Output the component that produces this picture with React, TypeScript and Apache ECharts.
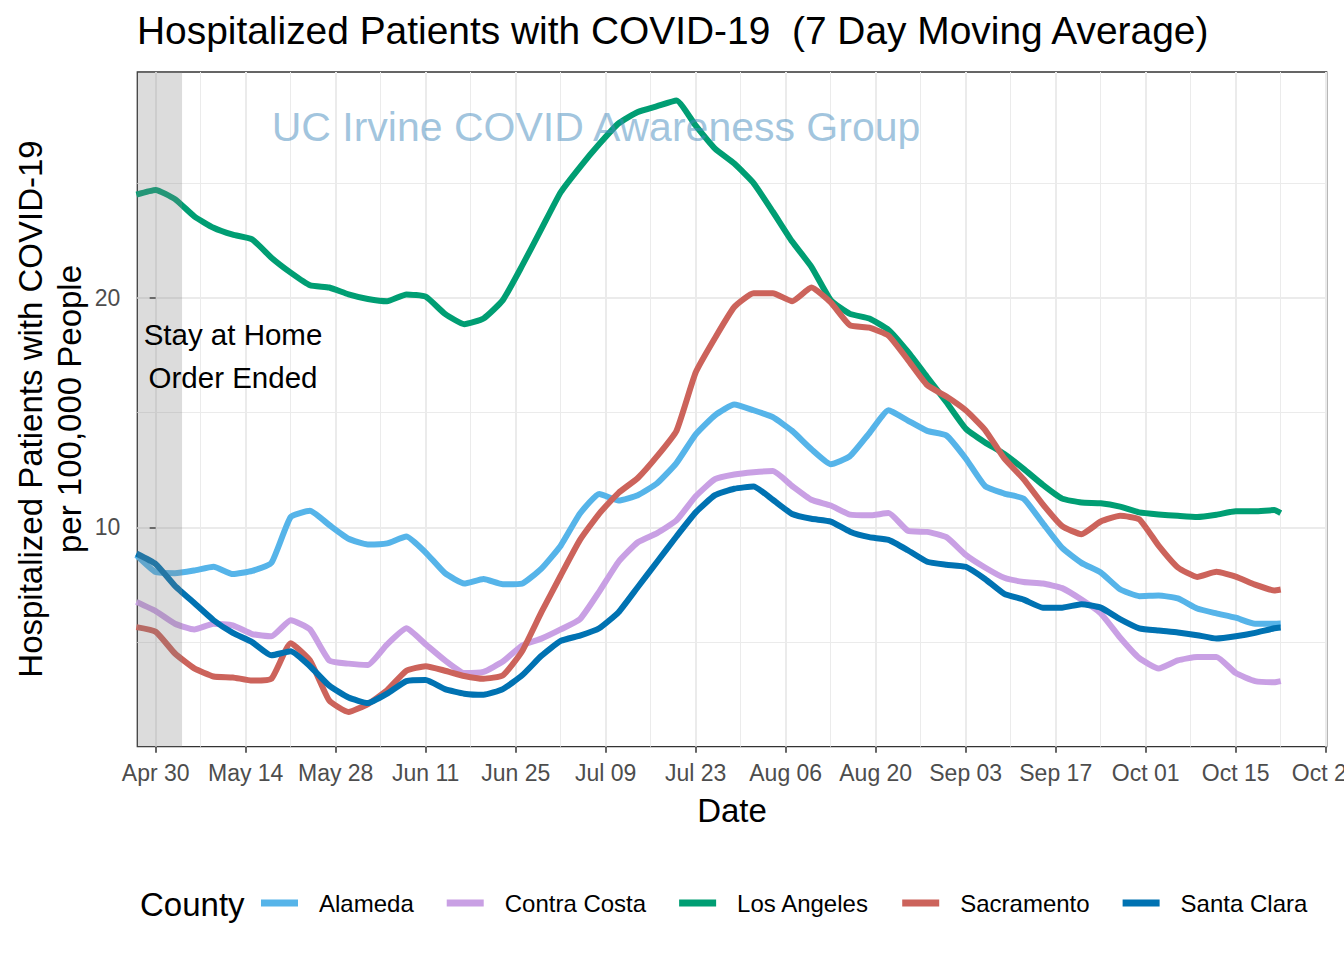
import React, { useEffect, useRef } from 'react';
import * as echarts from 'echarts';

// x values: days after Apr 30
const days = [-3,0,3,6,9,12,15,18,21,24,27,30,33,36,39,42,45,48,51,54,57,60,63,66,69,72,75,78,81,84,87,90,93,96,99,102,105,108,111,114,117,120,123,126,129,132,135,138,141,144,147,150,153,156,159,162,165,168,171,174,175];

const tickDays = [0,14,28,42,56,70,84,98,112,126,140,154,168,182];
const tickLabels = ['Apr 30','May 14','May 28','Jun 11','Jun 25','Jul 09','Jul 23','Aug 06','Aug 20','Sep 03','Sep 17','Oct 01','Oct 15','Oct 29'];
const minorDays = [7,21,35,49,63,77,91,105,119,133,147,161,175];
const yTicks = [10, 20];
const yMinor = [5, 15, 25];

const counties = ['Alameda', 'Contra Costa', 'Los Angeles', 'Sacramento', 'Santa Clara'];
const colors = ['#56B4E9', '#C9A0E4', '#009E73', '#CC635B', '#0072B2'];

const alameda = [8.79,8.05,8.0,8.12,8.28,7.96,8.1,8.45,10.45,10.72, 10.1,9.5,9.25,9.3,9.6,8.9,8.0,7.55,7.75,7.52, 7.55,8.2,9.2,10.6,11.45,11.17,11.4,11.92,12.8,14.05, 14.88,15.35,15.1,14.8,14.2,13.4,12.75,13.1,14.1,15.1, 14.65,14.2,14.0,13.0,11.8,11.47,11.25,10.17,9.1,8.45, 8.03,7.3,7.0,7.03,6.9,6.46,6.25,6.06,5.8,5.8, 5.81];
const contraCosta = [6.75,6.35,5.8,5.55,5.8,5.73,5.35,5.25,5.95,5.55, 4.2,4.06,4.0,4.9,5.6,4.9,4.2,3.65,3.7,4.15, 4.85,5.15,5.55,6.0,7.2,8.5,9.35,9.75,10.3,11.35, 12.1,12.3,12.4,12.45,11.8,11.2,10.95,10.55,10.52,10.62, 9.85,9.8,9.57,8.8,8.25,7.8,7.62,7.55,7.35,6.85, 6.25,5.2,4.3,3.85,4.2,4.35,4.35,3.65,3.3,3.25, 3.3];
const losAngeles = [24.5,24.7,24.3,23.55,23.05,22.75,22.55,21.75,21.1,20.55, 20.45,20.15,19.95,19.85,20.15,20.05,19.3,18.85,19.1,19.9, 21.4,23.0,24.6,25.7,26.7,27.6,28.1,28.35,28.6,27.5, 26.5,25.85,25.0,23.75,22.45,21.35,19.9,19.3,19.1,18.6, 17.65,16.55,15.45,14.3,13.7,13.2,12.55,11.85,11.25,11.08, 11.05,10.9,10.65,10.56,10.5,10.45,10.55,10.7,10.7,10.75, 10.62];
const sacramento = [5.65,5.45,4.5,3.85,3.5,3.46,3.32,3.4,4.95,4.2, 2.45,1.95,2.3,2.9,3.75,3.95,3.75,3.52,3.4,3.55, 4.6,6.3,7.9,9.45,10.6,11.5,12.15,13.1,14.2,16.75, 18.25,19.6,20.2,20.2,19.85,20.45,19.8,18.8,18.7,18.35, 17.3,16.2,15.7,15.1,14.25,13.0,12.1,11.0,10.05,9.7, 10.25,10.5,10.35,9.2,8.25,7.84,8.06,7.85,7.5,7.25, 7.29];
const santaClara = [8.86,8.4,7.45,6.7,5.95,5.4,5.0,4.42,4.6,3.95, 3.1,2.58,2.34,2.75,3.3,3.35,2.95,2.75,2.7,2.95, 3.55,4.4,5.05,5.28,5.6,6.3,7.4,8.5,9.6,10.65, 11.4,11.68,11.78,11.2,10.58,10.37,10.25,9.81,9.57,9.45, 9.0,8.5,8.37,8.28,7.75,7.1,6.85,6.5,6.5,6.65, 6.5,6.0,5.6,5.5,5.42,5.3,5.15,5.25,5.4,5.6, 5.63];

const seriesValues = [alameda, contraCosta, losAngeles, sacramento, santaClara];

// stay-at-home shading (days after Apr 30)
const shadeRange = [-2.86, 4.1];

const FONT = 'Liberation Sans, Arial, sans-serif';

export default function App() {
  const ref = useRef<HTMLDivElement>(null);
  useEffect(() => {
    const chart = echarts.init(ref.current!, null, { renderer: 'svg', width: 1344, height: 960 });
    const series: any[] = counties.map((name, i) => ({
      name,
      type: 'line',
      xAxisIndex: 0,
      yAxisIndex: 0,
      showSymbol: false,
      smooth: 0.15,
      color: colors[i],
      lineStyle: { color: colors[i], width: 6, join: 'round' },
      z: 2 + i * 0.01,
      data: days.map((d, j) => [d, seriesValues[i][j]]),
    }));
    series[4].markArea = {
      silent: true,
      z: 10,
      itemStyle: { color: 'rgba(128,128,128,0.28)' },
      data: [[{ xAxis: shadeRange[0] }, { xAxis: shadeRange[1] }]],
    };
    const option: any = {
      animation: false,
      backgroundColor: '#fff',
      grid: {
        left: 137.3, top: 72, right: 17.3, bottom: 213.3,
        show: true, borderColor: '#333', borderWidth: 1.3, backgroundColor: 'transparent',
        containLabel: false, outerBoundsMode: 'none',
      },
      xAxis: [
        {
          type: 'value', min: -2.86, max: 182.15,
          axisLine: { show: false },
          axisTick: { show: true, customValues: tickDays, length: 6, lineStyle: { color: '#333', width: 1.5 } },
          axisLabel: {
            customValues: tickDays, margin: 15, color: '#4d4d4d', fontSize: 23, fontFamily: FONT,
            formatter: (v: number) => tickLabels[tickDays.indexOf(Math.round(v))] ?? '',
          },
          splitLine: { show: true, lineStyle: { color: '#ebebeb', width: 2 } },
        },
        {
          type: 'value', min: -2.86, max: 182.15, position: 'top',
          axisLine: { show: false },
          axisTick: { show: false, customValues: minorDays },
          axisLabel: { show: false, customValues: minorDays },
          splitLine: { show: true, lineStyle: { color: '#ebebeb', width: 1 } },
        },
      ],
      yAxis: [
        {
          type: 'value', min: 0.44, max: 29.84,
          axisLine: { show: false },
          axisTick: { show: true, customValues: yTicks, length: 6, lineStyle: { color: '#333', width: 1.5 } },
          axisLabel: { customValues: yTicks, margin: 17, color: '#4d4d4d', fontSize: 23, fontFamily: FONT },
          splitLine: { show: true, lineStyle: { color: '#ebebeb', width: 2 } },
        },
        {
          type: 'value', min: 0.44, max: 29.84, position: 'right',
          axisLine: { show: false },
          axisTick: { show: false, customValues: yMinor },
          axisLabel: { show: false, customValues: yMinor },
          splitLine: { show: true, lineStyle: { color: '#ebebeb', width: 1 } },
        },
      ],
      legend: {
        data: counties,
        left: 261, top: 891, padding: 0,
        icon: 'rect', itemWidth: 37, itemHeight: 7, itemGap: 33,
        itemStyle: { borderWidth: 0 },
        textStyle: { fontSize: 24, color: '#000', fontFamily: FONT, padding: [0, 0, 0, 16] },
      },
      graphic: [
        {
          type: 'text', x: 137, y: 30, z: 100,
          style: { text: 'Hospitalized Patients with COVID-19  (7 Day Moving Average)', fontSize: 38.9, fontFamily: FONT, fill: '#000', align: 'left', verticalAlign: 'middle' },
        },
        {
          type: 'text', x: 596, y: 127, z: 100,
          style: { text: 'UC Irvine COVID Awareness Group', fontSize: 41, fontFamily: FONT, fill: 'rgba(70,140,190,0.5)', align: 'center', verticalAlign: 'middle' },
        },
        {
          type: 'text', x: 233, y: 356, z: 100,
          style: { text: 'Stay at Home\nOrder Ended', fontSize: 29.5, lineHeight: 43, fontFamily: FONT, fill: '#000', align: 'center', verticalAlign: 'middle' },
        },
        {
          type: 'text', x: 50, y: 409, rotation: Math.PI / 2, z: 100,
          style: { text: 'Hospitalized Patients with COVID-19\nper 100,000 People', fontSize: 33, lineHeight: 39, fontFamily: FONT, fill: '#000', align: 'center', verticalAlign: 'middle' },
        },
        {
          type: 'text', x: 732, y: 810, z: 100,
          style: { text: 'Date', fontSize: 33, fontFamily: FONT, fill: '#000', align: 'center', verticalAlign: 'middle' },
        },
        {
          type: 'text', x: 140, y: 904, z: 100,
          style: { text: 'County', fontSize: 33, fontFamily: FONT, fill: '#000', align: 'left', verticalAlign: 'middle' },
        },
      ],
      series,
    };
    chart.setOption(option);
    return () => chart.dispose();
  }, []);
  return <div ref={ref} style={{ position: 'fixed', left: 0, top: 0, width: 1344, height: 960, background: '#fff' }} />;
}
